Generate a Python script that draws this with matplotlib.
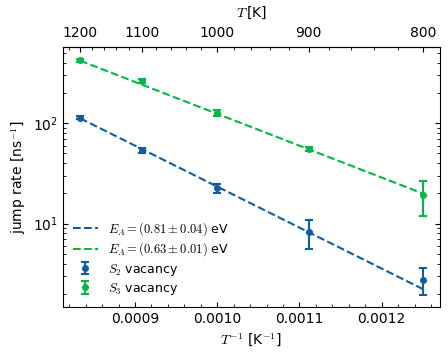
import numpy as np
import matplotlib
matplotlib.use("Agg")
import matplotlib.pyplot as plt
from matplotlib.ticker import AutoMinorLocator, FixedLocator, LogLocator

plt.rcParams['mathtext.fontset'] = 'cm'
plt.rcParams['font.size'] = 10

# Data
temperatures = np.array([1200, 1100, 1000, 900, 800])
s2_rate = np.array([114, 53.8, 22.5, 8.25, 2.77])
s2_err = np.array([5, 3, 2.5, 2.7, 0.82])
s3_rate = np.array([424, 264, 126, 55, 19.3])
s3_err = np.array([12, 10, 9, 2.5, 7.3])

# Arrhenius fit parameters (activation energy, fitted rate at 1200 K)
kB = 8.617e-5
ea_s2, ea_s2_err = 0.81, 0.04
ea_s3, ea_s3_err = 0.63, 0.01
fit_ref_T = 1200
fit_ref_s2 = 112
fit_ref_s3 = 420

top_ticks = [1200, 1100, 1000, 900, 800]
top_minor = list(range(780, 1240, 20))

blue = '#0C5DA5'
green = '#00B945'

fig = plt.figure(figsize=(4.48, 3.58), dpi=100)
ax = fig.add_axes([0.1406, 0.1433, 0.8414, 0.7247])

invT = 1.0 / temperatures
x_fit = np.linspace(invT.min(), invT.max(), 100)
fit_s2 = fit_ref_s2 * np.exp(-ea_s2 / kB * (x_fit - 1.0 / fit_ref_T))
fit_s3 = fit_ref_s3 * np.exp(-ea_s3 / kB * (x_fit - 1.0 / fit_ref_T))

l1, = ax.plot(x_fit, fit_s2, '--', color=blue, lw=1.5,
              label=r'$E_A = (%.2f \pm %.2f)$ eV' % (ea_s2, ea_s2_err))
l2, = ax.plot(x_fit, fit_s3, '--', color=green, lw=1.5,
              label=r'$E_A = (%.2f \pm %.2f)$ eV' % (ea_s3, ea_s3_err))
e1 = ax.errorbar(invT, s2_rate, yerr=s2_err, fmt='o', color=blue, ms=4,
                 capsize=3, elinewidth=1.5, capthick=1.5, label=r'$S_2$ vacancy')
e2 = ax.errorbar(invT, s3_rate, yerr=s3_err, fmt='o', color=green, ms=4,
                 capsize=3, elinewidth=1.5, capthick=1.5, label=r'$S_3$ vacancy')

ax.set_yscale('log')
ax.yaxis.set_minor_locator(LogLocator(base=10, subs=np.arange(2, 10), numticks=20))
ax.set_ylabel(r'jump rate [ns$^{-1}$]')
ax.set_xlabel(r'$T^{-1}$ [K$^{-1}$]')
ax.xaxis.set_minor_locator(AutoMinorLocator(5))
ax.tick_params(which='both', direction='in', right=True, top=False)
ax.tick_params(which='major', length=3.6, width=0.8)
ax.tick_params(which='minor', length=2, width=0.6)

secax = ax.secondary_xaxis('top', functions=(lambda x: 1.0 / np.where(x == 0, 1e-12, x),
                                              lambda x: 1.0 / np.where(x == 0, 1e-12, x)))
secax.xaxis.set_major_locator(FixedLocator(top_ticks))
secax.xaxis.set_minor_locator(FixedLocator(top_minor))
secax.tick_params(which='both', direction='in')
secax.tick_params(which='major', length=3.6, width=0.8, pad=5)
secax.tick_params(which='minor', length=2, width=0.6)
secax.set_xlabel(r'$T\,$[K]', labelpad=7)

ax.legend(handles=[l1, l2, e1, e2], loc='lower left', frameon=False, fontsize=9,
          labelspacing=0.25, borderaxespad=0.4)

fig.savefig('out.png', dpi=100)
